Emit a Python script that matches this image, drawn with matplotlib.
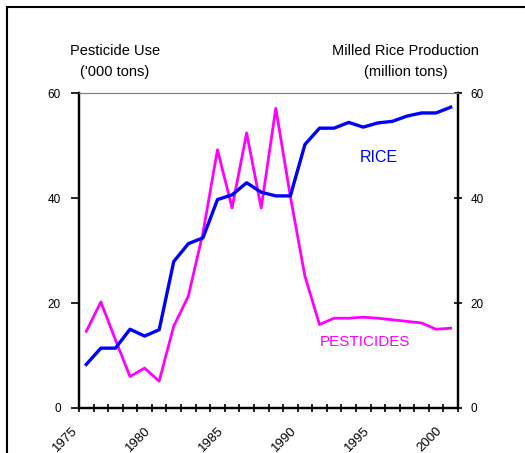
import matplotlib
matplotlib.use("Agg")
import matplotlib.pyplot as plt
from matplotlib.patches import Rectangle
from matplotlib.transforms import ScaledTranslation
import numpy as np

plt.rcParams['font.family'] = ['Liberation Sans', 'DejaVu Sans']

years = list(range(1975, 2001))
pesticides = [14.6, 20.2, 13.0, 6.0, 7.6, 5.1, 15.6, 21.3, 33.3, 49.2, 38.1, 52.4, 38.1, 57.1,
              40.3, 25.1, 15.9, 17.1, 17.1, 17.3, 17.1, 16.8, 16.5, 16.2, 15.0, 15.2]
rice = [8.3, 11.4, 11.4, 15.0, 13.7, 14.9, 27.9, 31.3, 32.4, 39.7, 40.6, 42.9, 41.1, 40.4,
        40.4, 50.2, 53.3, 53.3, 54.4, 53.5, 54.3, 54.6, 55.6, 56.2, 56.2, 57.3]
yticks = [0, 20, 40, 60]
xlabel_years = [1975, 1980, 1985, 1990, 1995, 2000]

fig = plt.figure(figsize=(5.25, 4.53), dpi=100)
ax = fig.add_axes([79/525, 1-408/453, (458-79)/525, (408-93)/453])
ax2 = ax.twinx()

xpos = np.array(years) + 0.5
ax.plot(xpos, pesticides, color='#FF00FF', lw=2.0)
ax2.plot(xpos, rice, color='#0000FF', lw=2.4)

for a in (ax, ax2):
    a.set_ylim(0, 60)
    a.set_xlim(1975, 2001)
    a.set_yticks(yticks)

ax.set_xticks(range(1975, 2002))
ax.set_xticklabels([str(y) if y in xlabel_years else '' for y in range(1975, 2002)],
                   rotation=45, ha='right', va='center', rotation_mode='anchor', fontsize=9.5)
ax.tick_params(axis='x', direction='inout', length=6, width=1.2, pad=12)
off = ScaledTranslation(-3/100, 0, fig.dpi_scale_trans)
for lab in ax.get_xticklabels():
    lab.set_transform(lab.get_transform() + off)
ax.tick_params(axis='y', direction='out', length=6, width=1.2, labelsize=8.5, pad=7)
ax2.tick_params(axis='y', direction='inout', length=6, width=1.2, labelsize=8.5, pad=6)

for a in (ax, ax2):
    a.spines['left'].set_linewidth(1.6)
    a.spines['right'].set_linewidth(1.6)
    a.spines['bottom'].set_linewidth(1.6)
    a.spines['top'].set_linewidth(0.8)
    a.spines['top'].set_color('#808080')

fig.text(115/525, 1-51/453, 'Pesticide Use', ha='center', va='center', fontsize=10.5)
fig.text(115/525, 1-72/453, "('000 tons)", ha='center', va='center', fontsize=10.5)
fig.text(405/525, 1-51/453, 'Milled Rice Production', ha='center', va='center', fontsize=10.5)
fig.text(406/525, 1-72/453, '(million tons)', ha='center', va='center', fontsize=10.5)

ax2.text(1995.6, 47.8, 'RICE', color='#0000FF', ha='center', va='center', fontsize=11.5)
ax2.text(1994.6, 12.6, 'PESTICIDES', color='#FF00FF', ha='center', va='center', fontsize=11)

fig.patches.append(Rectangle((7/525, -0.2), 2.0, 0.2 + 1 - 7/453, transform=fig.transFigure,
                             fill=False, edgecolor='black', lw=1.5, clip_on=False))

fig.savefig('out.png', dpi=100)
